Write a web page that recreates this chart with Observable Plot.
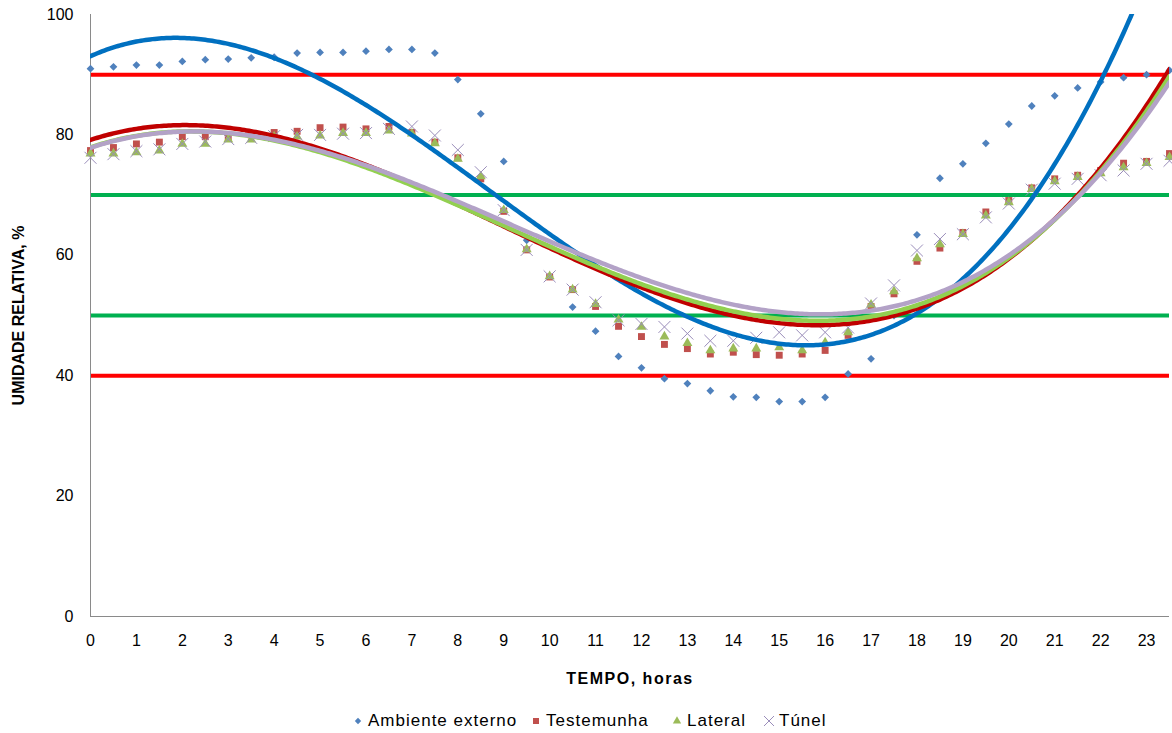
<!DOCTYPE html>
<html><head><meta charset="utf-8">
<script src="https://cdn.jsdelivr.net/npm/d3@7"></script>
<script src="https://cdn.jsdelivr.net/npm/@observablehq/plot@0.6"></script>
<style>
body{margin:0;background:#fff;font-family:"Liberation Sans",Arial,sans-serif;}
#chart svg{display:block}
#legend{position:relative;height:33px;font-size:17px;color:#000;}
#legend .item{position:absolute;top:4px;height:33px;display:flex;align-items:center;white-space:nowrap;}
#legend .item span{letter-spacing:1px}
#legend svg{margin-right:4px}
</style></head><body>
<div id="chart"></div>
<div id="legend"></div>
<script>
const hours = [0,0.5,1,1.5,2,2.5,3,3.5,4,4.5,5,5.5,6,6.5,7,7.5,8,8.5,9,9.5,10,10.5,11,11.5,12,12.5,13,13.5,14,14.5,15,15.5,16,16.5,17,17.5,18,18.5,19,19.5,20,20.5,21,21.5,22,22.5,23,23.5];
const ambiente = [91.0,91.3,91.6,91.6,92.2,92.5,92.6,92.8,92.9,93.6,93.7,93.7,93.9,94.2,94.2,93.6,89.2,83.5,75.6,62.5,56.5,51.4,47.4,43.2,41.3,39.5,38.7,37.5,36.5,36.4,35.7,35.7,36.4,40.3,42.8,50.0,63.4,72.8,75.2,78.6,81.8,84.8,86.5,87.8,88.8,89.5,90.0,90.7];
const testemunha = [77.4,77.9,78.5,78.8,79.7,79.7,79.6,80.0,80.4,80.6,81.2,81.3,81.0,81.4,80.4,78.8,76.2,72.7,67.3,60.9,56.4,54.3,51.5,48.2,46.5,45.2,44.5,43.6,43.9,43.5,43.4,43.6,44.2,46.7,51.5,53.6,59.0,61.2,63.8,67.2,69.1,71.2,72.7,73.3,74.1,75.3,75.6,76.9];
const lateral = [76.9,76.9,77.1,77.4,78.5,78.5,79.2,79.2,79.7,79.7,79.9,80.3,80.3,80.7,80.2,78.6,76.0,73.1,67.5,61.0,56.5,54.3,51.9,49.3,48.1,46.5,45.4,44.2,44.5,44.5,44.7,44.2,45.5,47.2,51.8,54.0,59.5,61.8,63.5,66.6,68.8,71.0,72.3,73.0,73.6,74.6,75.3,76.3];
const tunel = [76.2,76.8,77.3,77.6,78.5,78.9,79.3,79.5,79.8,80.0,80.0,80.2,80.3,81.0,81.4,79.9,77.5,73.8,67.5,60.9,56.5,54.3,52.2,49.2,48.6,48.1,47.0,45.8,45.8,46.3,47.2,46.7,47.2,48.0,52.0,55.0,60.8,62.7,63.5,66.3,68.6,70.9,71.9,72.7,73.3,74.1,75.2,75.7];
const seriesNames = ["Ambiente externo","Testemunha","Lateral","Túnel"];
const markerSymbols = ["diamond2","square","triangle","times"];
const markerColors = ["#4F81BD","#C0504D","#9BBB59","#9A8DBA"];
const trendColors = ["#0070C0","#C00000","#92D050","#B3A2C7"];
const refLevels = [90,70,50,40];
const refColors = ["#FF0000","#00B050","#00B050","#FF0000"];
const xTicks = [0,1,2,3,4,5,6,7,8,9,10,11,12,13,14,15,16,17,18,19,20,21,22,23];
const yTicks = [0,20,40,60,80,100];
const xTitle = "TEMPO, horas";
const yTitle = "UMIDADE RELATIVA, %";
const trendOrder = 3;

const seriesValues = [ambiente, testemunha, lateral, tunel];

// least-squares polynomial trendline (like Excel's polynomial trendline)
function polyfit(xs, ys, deg){
  const n = deg + 1, s = 10;
  const A = Array.from({length:n}, () => new Array(n).fill(0));
  const b = new Array(n).fill(0);
  xs.forEach((x0, i) => {
    const x = x0 / s;
    const p = [1]; for (let k = 1; k < 2*n; k++) p.push(p[k-1]*x);
    for (let j = 0; j < n; j++){ b[j] += p[j]*ys[i]; for (let k = 0; k < n; k++) A[j][k] += p[j+k]; }
  });
  for (let c = 0; c < n; c++){
    let piv = c; for (let r = c+1; r < n; r++) if (Math.abs(A[r][c]) > Math.abs(A[piv][c])) piv = r;
    [A[c], A[piv]] = [A[piv], A[c]]; [b[c], b[piv]] = [b[piv], b[c]];
    for (let r = c+1; r < n; r++){ const f = A[r][c]/A[c][c]; for (let k = c; k < n; k++) A[r][k] -= f*A[c][k]; b[r] -= f*b[c]; }
  }
  const co = new Array(n).fill(0);
  for (let r = n-1; r >= 0; r--){ let v = b[r]; for (let k = r+1; k < n; k++) v -= A[r][k]*co[k]; co[r] = v/A[r][r]; }
  return x0 => { const x = x0/s; let v = 0; for (let k = n-1; k >= 0; k--) v = v*x + co[k]; return v; };
}

const sampleX = d3.range(0, 23.5 + 1e-9, 0.05);
const marks = [];
refLevels.forEach((lv, i) => marks.push(Plot.ruleY([lv], {stroke: refColors[i], strokeWidth: 4})));
marks.push(Plot.ruleX([0], {stroke: "#8a8a8a", strokeWidth: 1}));
marks.push(Plot.ruleY([0], {stroke: "#8a8a8a", strokeWidth: 1}));
seriesValues.forEach((vals, si) => {
  const pts = hours.map((h, i) => ({h, v: vals[i]}));
  const sym = markerSymbols[si];
  if (sym === "times") {
    marks.push(Plot.dot(pts, {x:"h", y:"v", symbol:sym, r:5.5, stroke:markerColors[si], strokeWidth:1, fill:"none"}));
  } else {
    const r = sym === "triangle" ? 3.7 : sym === "square" ? 3.9 : 3.5;
    marks.push(Plot.dot(pts, {x:"h", y:"v", symbol:sym, r, fill:markerColors[si], stroke:"none"}));
  }
});
seriesValues.forEach((vals, si) => {
  const f = polyfit(hours, vals, trendOrder);
  const tr = sampleX.map(x => ({h:x, v:f(x)}));
  marks.push(Plot.line(tr, {x:"h", y:"v", stroke:trendColors[si], strokeWidth:4.5, clip:true, curve:"linear"}));
});
marks.push(Plot.axisX({ticks:xTicks, tickSize:0, tickPadding:18, tickFormat:d=>String(d), label:null, fontSize:16}));
marks.push(Plot.axisY({ticks:yTicks, tickSize:0, tickPadding:17, label:null, fontSize:16}));
marks.push(Plot.text([xTitle], {frameAnchor:"bottom", dy:62, text:d=>d, fontWeight:"bold", fontSize:16, textAnchor:"middle", lineAnchor:"middle"}));
marks.push(Plot.text([yTitle], {frameAnchor:"left", dx:-72, rotate:-90, text:d=>d, fontWeight:"bold", fontSize:16, textAnchor:"middle", lineAnchor:"middle"}));

const chart = Plot.plot({
  width:1172, height:700,
  marginLeft:90, marginRight:3, marginTop:14, marginBottom:84,
  style:{fontFamily:'"Liberation Sans", Arial, sans-serif', fontSize:"16px", color:"#000", background:"#fff"},
  x:{domain:[0,23.5]},
  y:{domain:[0,100]},
  marks
});
// widen the horizontal title a little, as in the reference
d3.select(chart).selectAll("text").filter(function(){ return this.textContent === xTitle; }).attr("letter-spacing", "1.5px");
document.getElementById("chart").appendChild(chart);

// legend
const legend = document.getElementById("legend");
const legendX = [352, 530, 671, 763];
seriesNames.forEach((name, si) => {
  const item = document.createElement("div");
  item.className = "item";
  item.style.left = legendX[si] + "px";
  const sym = markerSymbols[si];
  const size = 12;
  const svg = d3.create("svg").attr("width", size).attr("height", size).attr("viewBox", "-6 -6 12 12");
  if (sym === "diamond2") svg.append("path").attr("d", d3.symbol(d3.symbolDiamond2, 26)()).attr("fill", markerColors[si]);
  else if (sym === "square") svg.append("path").attr("d", d3.symbol(d3.symbolSquare, 36)()).attr("fill", markerColors[si]);
  else if (sym === "triangle") svg.append("path").attr("d", d3.symbol(d3.symbolTriangle, 30)()).attr("fill", markerColors[si]);
  else svg.append("path").attr("d", "M-5,-5L5,5M-5,5L5,-5").attr("stroke", markerColors[si]).attr("stroke-width", 1).attr("fill", "none");
  item.appendChild(svg.node());
  const t = document.createElement("span");
  t.textContent = name;
  item.appendChild(t);
  legend.appendChild(item);
});
</script>
</body></html>
